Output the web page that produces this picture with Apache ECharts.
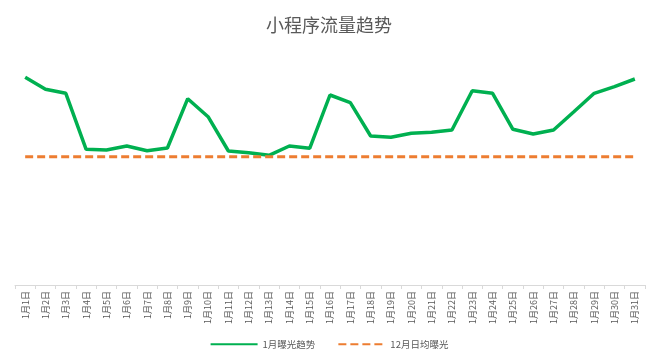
<!DOCTYPE html>
<html><head><meta charset="utf-8">
<script src="https://cdn.jsdelivr.net/npm/echarts@6/dist/echarts.min.js"></script>
<style>html,body{margin:0;padding:0;background:#fff}#c{width:658px;height:364px}</style>
</head><body><div id="c"></div>
<script>
const categories = Array.from({length:31},(_,i)=>'1月'+(i+1)+'日');
const janExposure = [207.7,195.7,191.7,135.7,135,139,134.3,137,186.3,168.3,134,132.3,129.7,139,136.7,190,182.3,149,147.7,151.7,152.7,155,194.3,191.7,155.7,151,155,173.3,191.7,198.3,206];
const decAvgValue = 128.3;
const decAvg = categories.map(()=>decAvgValue);
const seriesNames = ['1月曝光趋势','12月日均曝光'];
const font = '"Noto Sans CJK SC", "Microsoft YaHei", sans-serif';
const chart = echarts.init(document.getElementById('c'), null, {renderer:'canvas'});
chart.setOption({
  animation:false,
  backgroundColor:'#fff',
  title:{text:'小程序流量趋势',left:'center',top:11,textStyle:{fontFamily:font,fontSize:18,fontWeight:'normal',color:'#595959'}},
  legend:{bottom:10,left:'center',itemWidth:47,itemHeight:10,itemGap:22,
    itemStyle:{opacity:0},
    textStyle:{fontFamily:font,fontSize:9.5,color:'#595959'},
    data:seriesNames},
  grid:{left:15,right:13,top:45,bottom:79,containLabel:false},
  xAxis:{type:'category',data:categories,boundaryGap:true,
    axisLine:{lineStyle:{color:'#d9d9d9',width:1}},
    axisTick:{show:true,length:4,lineStyle:{color:'#d9d9d9'}},
    axisLabel:{interval:0,rotate:90,fontFamily:font,fontSize:9,color:'#595959',margin:6}},
  yAxis:{type:'value',min:0,max:240,show:false,splitLine:{show:false}},
  series:[
    {name:seriesNames[0],type:'line',data:janExposure,symbol:'none',
      lineStyle:{color:'#00b050',width:3.5},itemStyle:{color:'#00b050'}},
    {name:seriesNames[1],type:'line',data:decAvg,symbol:'none',
      lineStyle:{color:'#ed7d31',width:3,type:[8,4]},itemStyle:{color:'#ed7d31'}}
  ]
});
</script></body></html>
